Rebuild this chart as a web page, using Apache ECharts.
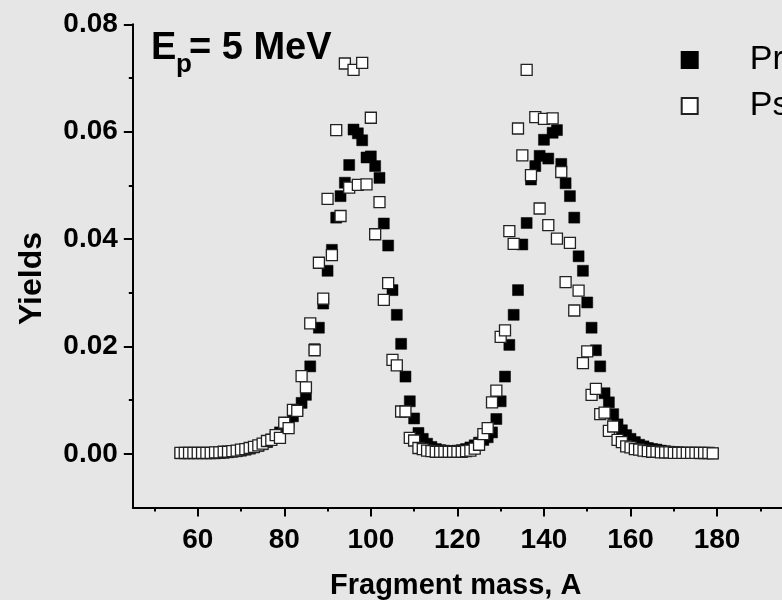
<!DOCTYPE html>
<html>
<head>
<meta charset="utf-8">
<title>Fragment mass yields, Ep = 5 MeV</title>
<script src="https://cdn.jsdelivr.net/npm/echarts@6/dist/echarts.min.js"></script>
<style>
  html, body { margin: 0; padding: 0; background: #e6e6e6; overflow: hidden; }
  #chart { width: 782px; height: 600px; }
</style>
</head>
<body>
<div id="chart"></div>
<script>
// fragment mass numbers A
const massA = [
  56, 57, 58, 59, 60, 61, 62, 63, 64, 65, 66, 67, 68, 69, 70, 71, 72, 73, 74, 75,
  76, 77, 78, 79, 80, 81, 82, 83, 84, 85, 86, 87, 88, 89, 90, 91, 92, 93, 94, 95,
  96, 97, 98, 99, 100, 101, 102, 103, 104, 105, 106, 107, 108, 109, 110, 111, 112, 113, 114, 115,
  116, 117, 118, 119, 120, 121, 122, 123, 124, 125, 126, 127, 128, 129, 130, 131, 132, 133, 134, 135,
  136, 137, 138, 139, 140, 141, 142, 143, 144, 145, 146, 147, 148, 149, 150, 151, 152, 153, 154, 155,
  156, 157, 158, 159, 160, 161, 162, 163, 164, 165, 166, 167, 168, 169, 170, 171, 172, 173, 174, 175,
  176, 177, 178, 179
]

// filled squares
const presentYield = [
  0.0001, 0.0001, 0.0001, 0.0001, 0.0001, 0.0001, 0.0001, 0.0001, 0.0001, 0.0002,
  0.0002, 0.0003, 0.0004, 0.0005, 0.0006, 0.0008, 0.0010, 0.0012, 0.0015, 0.0018,
  0.0022, 0.0027, 0.0032, 0.0040, 0.0048, 0.0058, 0.0070, 0.0082, 0.0095, 0.0110,
  0.0163, 0.0195, 0.0235, 0.0280, 0.0341, 0.0380, 0.0440, 0.0480, 0.0505, 0.0538,
  0.0604, 0.0597, 0.0584, 0.0552, 0.0554, 0.0536, 0.0514, 0.0429, 0.0388, 0.0305,
  0.0259, 0.0205, 0.0144, 0.0098, 0.0066, 0.0039, 0.0028, 0.0019, 0.0013, 0.0009,
  0.0007, 0.0006, 0.0005, 0.0005, 0.0006, 0.0007, 0.0009, 0.0012, 0.0016, 0.0021,
  0.0026, 0.0031, 0.0040, 0.0065, 0.0098, 0.0144, 0.0203, 0.0259, 0.0305, 0.0390,
  0.0430, 0.0511, 0.0536, 0.0555, 0.0585, 0.0550, 0.0598, 0.0603, 0.0540, 0.0504,
  0.0480, 0.0440, 0.0368, 0.0341, 0.0282, 0.0235, 0.0193, 0.0163, 0.0113, 0.0096,
  0.0074, 0.0055, 0.0044, 0.0035, 0.0028, 0.0022, 0.0017, 0.0014, 0.0011, 0.0009,
  0.0008, 0.0006, 0.0005, 0.0004, 0.0003, 0.0003, 0.0002, 0.0002, 0.0002, 0.0002,
  0.0001, 0.0001, 0.0001, 0.0001
]

// open squares
const pseudoYield = [
  0.0002, 0.0002, 0.0002, 0.0002, 0.0002, 0.0002, 0.0002, 0.0002, 0.0003, 0.0003,
  0.0004, 0.0004, 0.0005, 0.0006, 0.0008, 0.0009, 0.0011, 0.0013, 0.0016, 0.0019,
  0.0024, 0.0026, 0.0035, 0.0030, 0.0058, 0.0048, 0.0082, 0.0080, 0.0145, 0.0124,
  0.0243, 0.0193, 0.0356, 0.0289, 0.0475, 0.0370, 0.0603, 0.0443, 0.0727, 0.0496,
  0.0715, 0.0501, 0.0728, 0.0502, 0.0626, 0.0409, 0.0469, 0.0287, 0.0318, 0.0175,
  0.0165, 0.0079, 0.0079, 0.0030, 0.0025, 0.0011, 0.0009, 0.0006, 0.0005, 0.0004,
  0.0004, 0.0004, 0.0004, 0.0004, 0.0004, 0.0004, 0.0005, 0.0006, 0.0010, 0.0017,
  0.0037, 0.0048, 0.0096, 0.0118, 0.0218, 0.0230, 0.0415, 0.0391, 0.0606, 0.0556,
  0.0715, 0.0519, 0.0627, 0.0457, 0.0624, 0.0426, 0.0625, 0.0401, 0.0525, 0.0320,
  0.0393, 0.0267, 0.0304, 0.0169, 0.0191, 0.0110, 0.0121, 0.0074, 0.0077, 0.0043,
  0.0051, 0.0026, 0.0022, 0.0014, 0.0012, 0.0009, 0.0008, 0.0006, 0.0005, 0.0004,
  0.0004, 0.0003, 0.0003, 0.0003, 0.0002, 0.0002, 0.0002, 0.0002, 0.0002, 0.0002,
  0.0002, 0.0002, 0.0002, 0.0001
]

const seriesNames = ['Present work', 'Pseudo data']
const xMajorTicks = [60, 80, 100, 120, 140, 160, 180]
const xMinorTicks = [50, 70, 90, 110, 130, 150, 170, 190]
const yMajorTicks = [0, 0.02, 0.04, 0.06, 0.08]
const yMinorTicks = [0.01, 0.03, 0.05, 0.07]

const font = '"Liberation Sans", Arial, sans-serif'
const pairs = (ys) => massA.map((a, i) => [a, ys[i]])

const echart = echarts.init(document.getElementById('chart'), null, { renderer: 'canvas' })

const xBase = {
  type: 'value',
  min: 45,
  max: 195,
  gridIndex: 0,
  position: 'bottom',
  splitLine: { show: false }
}
const yBase = {
  type: 'value',
  min: -0.01,
  max: 0.08,
  gridIndex: 0,
  position: 'left',
  splitLine: { show: false }
}

echart.setOption({
  backgroundColor: '#e6e6e6',
  animation: false,
  grid: {
    left: 132.8,
    top: 24.3,
    width: 671.3,
    height: 483.3,
    containLabel: false
  },
  xAxis: [
    {
      ...xBase,
      axisLine: { show: true, onZero: false, lineStyle: { color: '#000', width: 2 } },
      axisTick: { show: true, customValues: xMajorTicks, length: 9, lineStyle: { color: '#000', width: 2 } },
      axisLabel: {
        show: true,
        customValues: xMajorTicks,
        margin: 19,
        color: '#000',
        fontFamily: font,
        fontWeight: 'bold',
        fontSize: 28
      }
    },
    {
      ...xBase,
      axisLine: { show: false, onZero: false },
      axisTick: { show: true, customValues: xMinorTicks, length: 4, lineStyle: { color: '#000', width: 2 } },
      axisLabel: { show: false }
    }
  ],
  yAxis: [
    {
      ...yBase,
      axisLine: { show: true, onZero: false, lineStyle: { color: '#000', width: 2 } },
      axisTick: { show: true, customValues: yMajorTicks, length: 9, lineStyle: { color: '#000', width: 2 } },
      axisLabel: {
        show: true,
        customValues: yMajorTicks,
        margin: 15,
        color: '#000',
        fontFamily: font,
        fontWeight: 'bold',
        fontSize: 28,
        formatter: (v) => v.toFixed(2)
      }
    },
    {
      ...yBase,
      axisLine: { show: false, onZero: false },
      axisTick: { show: true, customValues: yMinorTicks, length: 4, lineStyle: { color: '#000', width: 2 } },
      axisLabel: { show: false }
    }
  ],
  legend: {
    orient: 'vertical',
    left: 680.7,
    top: 43,
    padding: 0,
    itemWidth: 16,
    itemHeight: 16,
    itemGap: 12,
    icon: 'rect',
    data: seriesNames,
    textStyle: {
      color: '#000',
      fontFamily: font,
      fontSize: 34,
      padding: [0, 0, 0, 47]
    }
  },
  graphic: [
    {
      type: 'text',
      left: 151,
      top: 30,
      style: { text: 'E', fill: '#000', font: 'bold 38px ' + font }
    },
    {
      type: 'text',
      left: 176,
      top: 52,
      style: { text: 'p', fill: '#000', font: 'bold 26px ' + font }
    },
    {
      type: 'text',
      left: 189,
      top: 30,
      style: { text: '= 5 MeV', fill: '#000', font: 'bold 38px ' + font }
    },
    {
      type: 'text',
      left: 330,
      top: 571,
      style: { text: 'Fragment mass, A', fill: '#000', font: 'bold 29px ' + font }
    },
    {
      type: 'text',
      left: 16,
      top: 232,
      rotation: Math.PI / 2,
      style: { text: 'Yields', fill: '#000', font: 'bold 32px ' + font }
    }
  ],
  series: [
    {
      name: seriesNames[0],
      type: 'scatter',
      xAxisIndex: 0,
      yAxisIndex: 0,
      symbol: 'rect',
      symbolSize: 11,
      itemStyle: { color: '#000', borderColor: '#000', borderWidth: 0.5, opacity: 1 },
      emphasis: { disabled: true },
      data: pairs(presentYield)
    },
    {
      name: seriesNames[1],
      type: 'scatter',
      xAxisIndex: 0,
      yAxisIndex: 0,
      symbol: 'rect',
      symbolSize: 11,
      itemStyle: { color: '#fff', borderColor: '#222', borderWidth: 1.3, opacity: 1 },
      emphasis: { disabled: true },
      data: pairs(pseudoYield)
    }
  ]
})
</script>
</body>
</html>
